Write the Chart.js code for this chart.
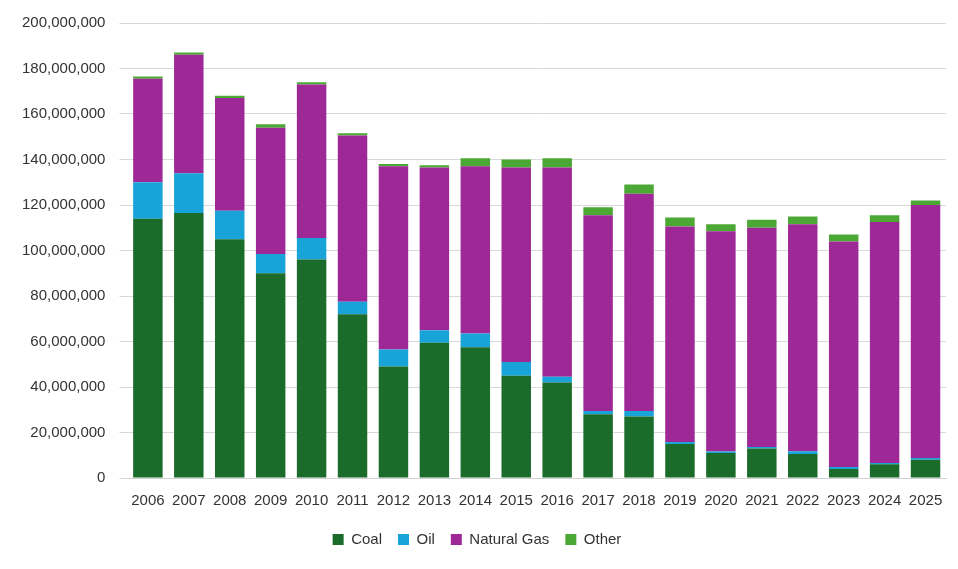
<!DOCTYPE html>
<html><head><meta charset="utf-8">
<script src="https://cdn.jsdelivr.net/npm/chart.js@4"></script>
<style>html,body{margin:0;padding:0;background:#fff}#w{width:958px;height:569px}</style>
</head><body><div id="w"><canvas id="c"></canvas></div>
<script>
const years=["2006","2007","2008","2009","2010","2011","2012","2013","2014","2015","2016","2017","2018","2019","2020","2021","2022","2023","2024","2025"];
const coal=[114,116.5,105,90,96,72,49,59.5,57.5,45,42,28,27,15,11,13,10.5,4,6,8];
const oil=[16,17.5,12.5,8.5,9.5,5.5,7.5,5.5,6,6,2.5,1.5,2.5,0.8,0.7,0.6,1.3,0.8,0.6,0.8];
const gas=[45.5,52,49.5,55.5,67.5,73,80.5,71.5,73.5,85.5,92,86,95.5,94.7,96.8,96.4,99.7,99.2,105.9,111.2];
const other=[1,1,1,1.5,1,1,1,1,3.5,3.5,4,3.5,4,4,3,3.5,3.5,3,3,2];
const M=a=>a.map(v=>v*1e6);
const ds=(l,d,c)=>({label:l,data:M(d),backgroundColor:c,barPercentage:0.72,categoryPercentage:1});
new Chart(document.getElementById('c'),{type:'bar',
data:{labels:years,datasets:[ds('Coal',coal,'#1b6b2b'),ds('Oil',oil,'#18a3d9'),ds('Natural Gas',gas,'#9e2996'),ds('Other',other,'#4ca835')]},
options:{responsive:true,maintainAspectRatio:false,animation:false,
layout:{padding:{left:8,right:12,top:1,bottom:12}},
plugins:{legend:{position:'bottom',labels:{boxWidth:11,boxHeight:11,font:{size:15,family:'Liberation Sans'},color:'#333',padding:16}},tooltip:{enabled:false}},
scales:{x:{stacked:true,grid:{display:false},border:{color:'#d0d0d0'},ticks:{padding:6,font:{size:15,family:'Liberation Sans'},color:'#333',maxRotation:0,autoSkip:false}},
y:{stacked:true,min:0,max:200e6,border:{display:false},grid:{color:'#d9d9d9'},ticks:{stepSize:20e6,font:{size:15,family:'Liberation Sans'},color:'#333',padding:14,callback:v=>v.toLocaleString('en-US')}}}}});
</script></body></html>
